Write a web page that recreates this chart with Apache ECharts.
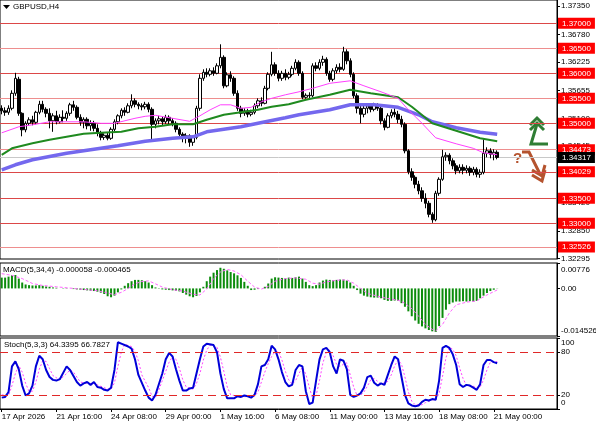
<!DOCTYPE html>
<html>
<head>
<meta charset="utf-8">
<title>GBPUSD H4</title>
<script src="https://cdn.jsdelivr.net/npm/echarts@6/dist/echarts.min.js"></script>
<style>
  html, body { margin: 0; padding: 0; background: #fff; }
  #chart { width: 596px; height: 425px; }
</style>
</head>
<body>
<div id="chart"></div>
<script>
// GBPUSD H4, 17 Apr 2026 -> 21 May 2026
const open = [
  1.3530,1.3525,1.3522,1.3530,1.3560,1.3588,1.3520,1.3487,1.3500,1.3507,
  1.3502,1.3522,1.3538,1.3528,1.3520,1.3505,1.3515,1.3503,1.3512,1.3510,
  1.3520,1.3537,1.3532,1.3512,1.3502,1.3508,1.3495,1.3500,1.3490,1.3480,
  1.3472,1.3476,1.3470,1.3488,1.3503,1.3515,1.3526,1.3522,1.3535,1.3545,
  1.3538,1.3535,1.3533,1.3538,1.3528,1.3498,1.3505,1.3509,1.3503,1.3512,
  1.3505,1.3500,1.3488,1.3478,1.3470,1.3475,1.3462,1.3472,1.3530,1.3590,
  1.3602,1.3598,1.3605,1.3600,1.3615,1.3632,1.3575,1.3597,1.3590,1.3560,
  1.3530,1.3520,1.3525,1.3518,1.3522,1.3535,1.3545,1.3540,1.3570,1.3598,
  1.3617,1.3600,1.3590,1.3600,1.3592,1.3598,1.3610,1.3622,1.3600,1.3552,
  1.3556,1.3555,1.3615,1.3610,1.3622,1.3628,1.3600,1.3588,1.3605,1.3612,
  1.3608,1.3643,1.3625,1.3598,1.3555,1.3530,1.3518,1.3530,1.3535,1.3528,
  1.3536,1.3530,1.3505,1.3492,1.3515,1.3522,1.3518,1.3508,1.3498,1.3445,
  1.3403,1.3392,1.3378,1.3365,1.3350,1.3340,1.3318,1.3307,1.3360,1.3388,
  1.3433,1.3436,1.3425,1.3415,1.3405,1.3412,1.3406,1.3410,1.3402,1.3408,
  1.3398,1.3402,1.3440,1.3445,1.3438,1.3442
]
const high = [
  1.3536,1.3532,1.3536,1.3566,1.3601,1.3593,1.3522,1.3504,1.3512,1.3515,
  1.3525,1.3545,1.3545,1.3532,1.3530,1.3520,1.3525,1.3518,1.3526,1.3524,
  1.3541,1.3545,1.3536,1.3518,1.3512,1.3512,1.3506,1.3505,1.3498,1.3485,
  1.3480,1.3482,1.3492,1.3508,1.3518,1.3530,1.3532,1.3540,1.3558,1.3550,
  1.3542,1.3540,1.3543,1.3542,1.3532,1.3510,1.3515,1.3514,1.3517,1.3516,
  1.3510,1.3504,1.3492,1.3482,1.3480,1.3478,1.3476,1.3535,1.3598,1.3608,
  1.3610,1.3610,1.3612,1.3620,1.3658,1.3636,1.3602,1.3604,1.3594,1.3566,
  1.3535,1.3530,1.3529,1.3527,1.3540,1.3550,1.3552,1.3575,1.3602,1.3643,
  1.3622,1.3606,1.3605,1.3608,1.3603,1.3615,1.3628,1.3626,1.3604,1.3560,
  1.3562,1.3620,1.3622,1.3628,1.3635,1.3632,1.3605,1.3610,1.3618,1.3620,
  1.3653,1.3648,1.3630,1.3602,1.3560,1.3535,1.3535,1.3540,1.3540,1.3541,
  1.3540,1.3535,1.3510,1.3520,1.3528,1.3530,1.3525,1.3515,1.3502,1.3448,
  1.3410,1.3396,1.3385,1.3372,1.3360,1.3345,1.3322,1.3365,1.3392,1.3447,
  1.3442,1.3440,1.3430,1.3420,1.3418,1.3418,1.3416,1.3414,1.3413,1.3412,
  1.3408,1.3468,1.3452,1.3450,1.3448,1.3446
]
const low = [
  1.3518,1.3515,1.3517,1.3526,1.3555,1.3515,1.3474,1.3482,1.3495,1.3496,
  1.3498,1.3518,1.3522,1.3512,1.3490,1.3483,1.3498,1.3500,1.3502,1.3505,
  1.3515,1.3525,1.3508,1.3495,1.3490,1.3488,1.3485,1.3484,1.3474,1.3466,
  1.3467,1.3466,1.3467,1.3484,1.3498,1.3510,1.3515,1.3520,1.3530,1.3532,
  1.3528,1.3526,1.3528,1.3522,1.3463,1.3490,1.3498,1.3496,1.3499,1.3498,
  1.3494,1.3482,1.3470,1.3462,1.3460,1.3453,1.3455,1.3468,1.3525,1.3585,
  1.3592,1.3594,1.3595,1.3598,1.3610,1.3570,1.3572,1.3583,1.3555,1.3525,
  1.3512,1.3515,1.3512,1.3514,1.3518,1.3530,1.3534,1.3538,1.3566,1.3594,
  1.3595,1.3584,1.3585,1.3586,1.3588,1.3594,1.3606,1.3595,1.3548,1.3549,
  1.3550,1.3552,1.3604,1.3606,1.3615,1.3595,1.3583,1.3584,1.3600,1.3602,
  1.3605,1.3618,1.3592,1.3550,1.3520,1.3500,1.3512,1.3520,1.3522,1.3524,
  1.3525,1.3498,1.3486,1.3490,1.3510,1.3512,1.3500,1.3492,1.3440,1.3398,
  1.3385,1.3370,1.3358,1.3343,1.3330,1.3312,1.3301,1.3304,1.3355,1.3385,
  1.3425,1.3418,1.3408,1.3398,1.3400,1.3398,1.3400,1.3395,1.3396,1.3392,
  1.3391,1.3398,1.3432,1.3430,1.3426,1.3428
]
const close = [
  1.3525,1.3522,1.3530,1.3560,1.3590,1.3520,1.3487,1.3500,1.3507,1.3502,
  1.3522,1.3538,1.3528,1.3520,1.3505,1.3515,1.3503,1.3512,1.3510,1.3520,
  1.3537,1.3532,1.3512,1.3502,1.3508,1.3495,1.3500,1.3490,1.3480,1.3472,
  1.3476,1.3470,1.3488,1.3503,1.3515,1.3526,1.3522,1.3535,1.3545,1.3538,
  1.3535,1.3533,1.3538,1.3528,1.3498,1.3505,1.3509,1.3503,1.3512,1.3505,
  1.3500,1.3488,1.3478,1.3470,1.3475,1.3462,1.3472,1.3530,1.3590,1.3602,
  1.3598,1.3605,1.3600,1.3615,1.3632,1.3575,1.3597,1.3590,1.3560,1.3530,
  1.3520,1.3525,1.3518,1.3522,1.3535,1.3545,1.3540,1.3570,1.3598,1.3617,
  1.3600,1.3590,1.3600,1.3592,1.3598,1.3610,1.3622,1.3600,1.3552,1.3556,
  1.3555,1.3615,1.3610,1.3622,1.3628,1.3600,1.3588,1.3605,1.3612,1.3608,
  1.3643,1.3625,1.3598,1.3555,1.3530,1.3518,1.3530,1.3535,1.3528,1.3536,
  1.3530,1.3505,1.3492,1.3515,1.3522,1.3518,1.3508,1.3498,1.3445,1.3403,
  1.3392,1.3378,1.3365,1.3350,1.3340,1.3318,1.3307,1.3360,1.3388,1.3433,
  1.3436,1.3425,1.3415,1.3405,1.3412,1.3406,1.3410,1.3402,1.3408,1.3398,
  1.3402,1.3440,1.3445,1.3438,1.3442,1.34317
]

// moving averages, [bar index, price]
const maFast = [[0,1.3481],[5,1.3493],[9,1.3497],[14,1.3503],[24,1.3503],[29,1.3500],[33,1.3500],
  [39,1.3510],[42,1.3514],[45,1.3516],[50,1.3510],[55,1.3504],[58,1.3515],[61,1.3527],[64,1.3537],
  [67,1.3537],[70,1.3530],[73,1.3532],[76,1.3543],[79,1.3550],[83,1.3557],[87,1.3563],[91,1.3570],
  [96,1.3580],[102,1.3585],[106,1.3575],[111,1.3563],[116,1.3550],[119,1.3527],[123,1.3500],
  [127,1.3471],[133,1.3459],[138,1.3450],[141,1.3441],[145,1.3437]]
const maMid = [[0,1.3437],[3,1.3450],[9,1.3460],[14,1.3467],[19,1.3473],[24,1.3479],[29,1.3481],
  [35,1.3483],[40,1.3490],[45,1.3493],[50,1.3498],[56,1.3498],[60,1.3507],[65,1.3517],[70,1.3522],
  [75,1.3527],[79,1.3533],[84,1.3538],[89,1.3547],[96,1.3557],[102,1.3567],[108,1.3560],[116,1.3552],
  [120,1.3533],[126,1.3500],[133,1.3485],[140,1.3470],[145,1.3464]]
const maSlow = [[0,1.3407],[4,1.3417],[9,1.3427],[19,1.3440],[29,1.3450],[34,1.3455],[42,1.3464],
  [50,1.3470],[56,1.3473],[60,1.3483],[70,1.3493],[75,1.3500],[83,1.3511],[87,1.3517],[96,1.3527],
  [102,1.3537],[109,1.3537],[116,1.3532],[122,1.3517],[126,1.3503],[133,1.3491],[140,1.3482],[145,1.3478]]

// MACD(5,34,4)
const macdHist = [
  0.0033,0.0033,0.0036,0.0040,0.0041,0.0030,0.0018,0.0012,0.0010,0.0009,
  0.0009,0.0010,0.0008,0.0006,0.0005,0.0003,0.0002,0.0000,-0.0001,0.0001,
  0.0000,-0.0002,-0.0003,-0.0004,-0.0005,-0.0006,-0.0007,-0.0008,-0.0010,-0.0013,
  -0.0017,-0.0024,-0.0027,-0.0022,-0.0012,-0.0003,0.0008,0.0016,0.0022,0.0026,
  0.0026,0.0025,0.0022,0.0018,0.0010,0.0003,-0.0001,-0.0003,-0.0004,-0.0005,
  -0.0006,-0.0007,-0.0009,-0.0014,-0.0019,-0.0024,-0.0027,-0.0023,-0.0012,0.0005,
  0.0022,0.0036,0.0048,0.0056,0.0063,0.0060,0.0055,0.0050,0.0046,0.0040,
  0.0032,0.0020,0.0008,-0.0005,-0.0004,-0.0002,0.0000,0.0005,0.0015,0.0030,
  0.0034,0.0033,0.0032,0.0031,0.0033,0.0032,0.0034,0.0036,0.0030,0.0020,
  0.0010,0.0007,0.0010,0.0018,0.0024,0.0027,0.0026,0.0025,0.0026,0.0027,
  0.0027,0.0024,0.0018,0.0008,-0.0005,-0.0016,-0.0022,-0.0025,-0.0027,-0.0028,
  -0.0028,-0.0030,-0.0035,-0.0038,-0.0038,-0.0037,-0.0038,-0.0045,-0.0056,-0.0070,
  -0.0085,-0.0098,-0.0108,-0.0116,-0.0122,-0.0127,-0.0131,-0.0133,-0.0115,-0.0090,
  -0.0065,-0.0048,-0.0043,-0.0040,-0.0040,-0.0039,-0.0040,-0.0039,-0.0040,-0.0038,
  -0.0030,-0.0022,-0.0014,-0.0008,-0.0004,-0.000058
]
const macdSignal = [[0,0.0045],[3,0.0040],[6,0.0030],[9,0.0015],[12,0.0009],[16,0.0005],[20,0.0001],
  [24,-0.0003],[28,-0.0007],[31,-0.0014],[33,-0.0019],[35,-0.0012],[37,0.0000],[39,0.0014],[41,0.0021],
  [43,0.0023],[45,0.0014],[47,0.0004],[50,-0.0004],[53,-0.0008],[56,-0.0018],[58,-0.0020],[60,-0.0002],
  [62,0.0030],[64,0.0050],[66,0.0058],[68,0.0053],[70,0.0042],[72,0.0022],[74,0.0004],[76,-0.0002],
  [78,0.0006],[80,0.0022],[83,0.0030],[86,0.0032],[89,0.0028],[91,0.0016],[93,0.0013],[95,0.0020],
  [98,0.0025],[101,0.0026],[103,0.0016],[105,0.0000],[107,-0.0015],[110,-0.0024],[113,-0.0031],
  [116,-0.0036],[118,-0.0045],[120,-0.0062],[122,-0.0085],[124,-0.0110],[126,-0.0125],[127,-0.0130],
  [129,-0.0110],[131,-0.0075],[133,-0.0050],[136,-0.0042],[139,-0.0038],[142,-0.0020],[145,-0.000465]]

// Stochastic(5,3,3), [bar index, value]
const stochMain = [[0,16],[1,17],[2,24],[3,60],[4,67],[5,56],[6,33],[7,19],[8,22],[9,33],[10,60],[11,75],
  [12,70],[13,55],[14,45],[15,41],[16,40],[17,42],[19,60],[20,55],[22,38],[23,33],[24,36],[25,38],[26,34],
  [27,38],[28,31],[29,30],[30,27],[31,26],[32,30],[33,55],[34,94],[35,92],[37,88],[38,85],[39,70],[40,48],
  [42,26],[43,16],[44,12],[45,20],[47,50],[48,70],[49,79],[50,74],[51,56],[52,40],[53,26],[54,26],[55,29],
  [56,30],[57,50],[58,70],[59,88],[60,92],[62,90],[63,80],[64,50],[65,28],[66,15],[68,15],[69,18],[70,17],
  [71,19],[72,18],[73,16],[74,20],[75,35],[76,60],[77,62],[78,70],[79,89],[80,84],[81,70],[82,52],[83,38],
  [84,32],[85,34],[86,55],[87,62],[88,60],[89,25],[90,7],[91,9],[92,40],[93,70],[94,84],[95,86],[96,80],
  [97,60],[98,50],[99,70],[100,68],[101,56],[102,20],[103,17],[104,19],[105,22],[106,30],[107,45],[108,47],
  [109,37],[110,33],[111,36],[112,34],[113,48],[114,62],[115,74],[116,70],[117,45],[118,20],[119,8],[120,5],
  [121,4],[122,5],[123,10],[124,13],[125,12],[126,14],[127,13],[128,40],[129,86],[130,89],[131,86],[132,77],
  [133,62],[134,35],[135,31],[136,34],[137,33],[138,30],[139,27],[140,35],[141,62],[142,69],[143,69],
  [144,66],[145,64.3395]]
const stochSignal = [[0,20],[2,19],[3,33],[4,50],[5,61],[6,52],[7,36],[8,25],[9,25],[10,38],[11,56],[12,68],
  [13,67],[14,57],[15,47],[17,41],[19,50],[20,55],[21,52],[23,38],[25,36],[27,36],[29,32],[31,28],[32,28],
  [33,37],[34,60],[35,80],[36,91],[38,88],[39,81],[40,68],[41,48],[43,30],[44,18],[45,16],[46,27],[48,53],
  [49,66],[50,74],[51,70],[52,57],[53,41],[54,31],[56,28],[57,36],[58,50],[59,69],[60,83],[61,90],[63,87],
  [64,73],[65,53],[66,31],[67,20],[70,17],[73,18],[74,18],[75,24],[76,38],[77,52],[78,64],[79,74],[80,81],
  [81,81],[82,69],[83,53],[84,41],[85,35],[86,40],[87,50],[88,59],[89,49],[90,31],[91,14],[92,19],[93,40],
  [94,65],[95,80],[96,83],[97,75],[98,63],[99,60],[100,63],[101,65],[102,48],[103,31],[104,19],[105,19],
  [106,24],[107,32],[108,41],[109,43],[110,39],[111,35],[113,39],[114,48],[115,61],[116,69],[117,63],
  [118,45],[119,24],[120,11],[121,6],[123,6],[124,9],[126,13],[127,13],[128,22],[129,46],[130,72],[131,87],
  [132,84],[133,75],[134,58],[135,43],[136,33],[138,32],[139,30],[140,31],[141,41],[142,55],[143,66],
  [145,66.7827]]

// horizontal levels and axis labels
const levels = [1.37000, 1.36500, 1.36000, 1.35500, 1.35000, 1.34473, 1.34029, 1.33500, 1.33000, 1.32526]
const lastPrice = 1.34317
const priceTicks = [1.37350, 1.36780, 1.36225, 1.35655, 1.35100, 1.34545, 1.33975, 1.33420, 1.32850, 1.32295]
const macdTicks = [0.00776, 0, -0.014526]
const macdTickLabels = ['0.00776', '0.00', '-0.014526']
const stochTicks = [100, 80, 20, 0]
const timeLabels = ['17 Apr 2026', '21 Apr 16:00', '24 Apr 08:00', '29 Apr 00:00', '1 May 16:00',
  '6 May 08:00', '11 May 00:00', '13 May 16:00', '18 May 08:00', '21 May 00:00']

const FONT = '"Liberation Sans", Arial, sans-serif'
const FS = 8
const SLOTS = 163 // bar slots across the window (chart shift on the right)
const TICK_EVERY = 16

const cats = []
for (let i = 0; i < SLOTS; i++) cats.push(String(i))

const candles = open.map((o, i) => [o, close[i], low[i], high[i]])

const strongLevel = [1.37000, 1.36000, 1.35000, 1.34029, 1.33500, 1.33000]
const levelLines = levels.map(v => ({
  yAxis: v,
  lineStyle: { color: strongLevel.indexOf(v) >= 0 ? '#dc4848' : '#ee8e8e', width: 1, type: 'solid' },
  label: {
    show: true, position: 'end', distance: 1, formatter: v.toFixed(5),
    backgroundColor: '#ff0000', color: '#fff', padding: [2, 4, 1, 4],
    fontSize: FS, fontFamily: FONT
  }
}))
levelLines.push({
  yAxis: lastPrice,
  lineStyle: { color: '#c8c8c8', width: 1, type: 'solid' },
  label: {
    show: true, position: 'end', distance: 1, formatter: lastPrice.toFixed(5),
    backgroundColor: '#000', color: '#fff', padding: [2, 4, 1, 4],
    fontSize: FS, fontFamily: FONT
  }
})

function nearestIndex(list, v) {
  let best = 0
  for (let i = 1; i < list.length; i++) {
    if (Math.abs(list[i] - v) < Math.abs(list[best] - v)) best = i
  }
  return best
}

const chart = echarts.init(document.getElementById('chart'), null, { renderer: 'canvas' })

const gridBase = { left: 0, right: 39, show: true, borderColor: '#000', borderWidth: 1, backgroundColor: '#fff', outerBoundsMode: 'none' }

chart.setOption({
  animation: false,
  backgroundColor: '#fff',
  textStyle: { fontFamily: FONT },
  title: [
    { text: 'GBPUSD,H4', left: 13, top: 3, padding: 0, textStyle: { fontSize: FS, fontWeight: 'normal', color: '#000', fontFamily: FONT } },
    { text: 'MACD(5,34,4) -0.000058 -0.000465', left: 3, top: 266, padding: 0, textStyle: { fontSize: FS, fontWeight: 'normal', color: '#000', fontFamily: FONT } },
    { text: 'Stoch(5,3,3) 64.3395 66.7827', left: 4, top: 341, padding: 0, textStyle: { fontSize: FS, fontWeight: 'normal', color: '#000', fontFamily: FONT } }
  ],
  grid: [
    Object.assign({ top: 0, height: 259 }, gridBase),
    Object.assign({ top: 263, height: 73 }, gridBase),
    Object.assign({ top: 338, height: 71 }, gridBase)
  ],
  xAxis: [0, 1, 2].map(g => ({
    type: 'category',
    gridIndex: g,
    data: cats,
    boundaryGap: true,
    show: g === 2,
    axisLine: { show: true, lineStyle: { color: '#000' } },
    axisTick: {
      show: true, length: 3, alignWithLabel: true,
      interval: i => i % TICK_EVERY === 0 && i / TICK_EVERY < timeLabels.length,
      lineStyle: { color: '#000' }
    },
    axisLabel: {
      interval: i => i % TICK_EVERY === 0 && i / TICK_EVERY < timeLabels.length,
      formatter: (v, i) => timeLabels[i / TICK_EVERY] || '',
      align: 'left', margin: 4, color: '#000', fontSize: FS, fontFamily: FONT
    },
    splitLine: { show: false }
  })),
  yAxis: [
    {
      type: 'value', gridIndex: 0, position: 'right',
      min: 1.32286, max: 1.37466,
      splitLine: { show: false },
      axisLine: { show: true, lineStyle: { color: '#000' } },
      axisTick: { show: true, customValues: priceTicks, length: 3, lineStyle: { color: '#000' } },
      axisLabel: { customValues: priceTicks, formatter: v => v.toFixed(5), margin: 4, color: '#000', fontSize: FS, fontFamily: FONT }
    },
    {
      type: 'value', gridIndex: 1, position: 'right',
      min: -0.014526, max: 0.00776,
      splitLine: { show: false },
      axisLine: { show: true, lineStyle: { color: '#000' } },
      axisTick: { show: true, customValues: macdTicks, length: 3, lineStyle: { color: '#000' } },
      axisLabel: {
        customValues: macdTicks, margin: 4, color: '#000', fontSize: FS, fontFamily: FONT,
        formatter: v => {
          const i = nearestIndex(macdTicks, v)
          const style = i === 0 ? 'top' : (i === 2 ? 'bot' : 'mid')
          return '{' + style + '|' + macdTickLabels[i] + '}'
        },
        rich: {
          top: { padding: [13, 0, 0, 0], fontSize: FS, fontFamily: FONT, color: '#000' },
          mid: { fontSize: FS, fontFamily: FONT, color: '#000' },
          bot: { padding: [0, 0, 11, 0], fontSize: FS, fontFamily: FONT, color: '#000' }
        }
      }
    },
    {
      type: 'value', gridIndex: 2, position: 'right',
      min: 0, max: 100,
      splitLine: { show: false },
      axisLine: { show: true, lineStyle: { color: '#000' } },
      axisTick: { show: true, customValues: stochTicks, length: 3, lineStyle: { color: '#000' } },
      axisLabel: {
        customValues: stochTicks, margin: 4, color: '#000', fontSize: FS, fontFamily: FONT,
        formatter: v => {
          const style = v === 100 ? 'top' : (v === 0 ? 'bot' : 'mid')
          return '{' + style + '|' + v + '}'
        },
        rich: {
          top: { padding: [10, 0, 0, 0], fontSize: FS, fontFamily: FONT, color: '#000' },
          mid: { fontSize: FS, fontFamily: FONT, color: '#000' },
          bot: { padding: [0, 0, 12, 0], fontSize: FS, fontFamily: FONT, color: '#000' }
        }
      }
    }
  ],
  series: [
    {
      name: 'GBPUSD', type: 'candlestick', xAxisIndex: 0, yAxisIndex: 0,
      data: candles, barWidth: 3,
      itemStyle: { color: '#fff', color0: '#000', borderColor: '#000', borderColor0: '#000', borderWidth: 1 },
      markLine: { silent: true, symbol: 'none', precision: 5, animation: false, z: 1, data: levelLines }
    },
    {
      name: 'MA slow', type: 'line', xAxisIndex: 0, yAxisIndex: 0, data: maSlow,
      symbol: 'none', smooth: false, lineStyle: { color: '#7468ee', width: 3.5 }, z: 3
    },
    {
      name: 'MA mid', type: 'line', xAxisIndex: 0, yAxisIndex: 0, data: maMid,
      symbol: 'none', lineStyle: { color: '#1f8a1f', width: 2 }, z: 3
    },
    {
      name: 'MA fast', type: 'line', xAxisIndex: 0, yAxisIndex: 0, data: maFast,
      symbol: 'none', lineStyle: { color: '#ff40ff', width: 1 }, z: 3
    },
    {
      name: 'MACD', type: 'bar', xAxisIndex: 1, yAxisIndex: 1, data: macdHist,
      barWidth: 2, itemStyle: { color: '#0c8c0c' }
    },
    {
      name: 'Signal', type: 'line', xAxisIndex: 1, yAxisIndex: 1, data: macdSignal,
      symbol: 'none', lineStyle: { color: '#ff66ff', width: 1, type: [3, 2] }, z: 3
    },
    {
      name: 'Stoch', type: 'line', xAxisIndex: 2, yAxisIndex: 2, data: stochMain,
      symbol: 'none', lineStyle: { color: '#0000d8', width: 2 }, z: 3,
      markLine: {
        silent: true, symbol: 'none', label: { show: false },
        lineStyle: { color: '#e02828', width: 1, type: [8, 5] },
        data: [{ yAxis: 80 }, { yAxis: 20 }]
      }
    },
    {
      name: 'Stoch signal', type: 'line', xAxisIndex: 2, yAxisIndex: 2, data: stochSignal,
      symbol: 'none', lineStyle: { color: '#ff44ff', width: 1, type: [2, 2] }, z: 2
    }
  ],
  graphic: [
    // little menu triangle before the symbol name
    { type: 'polygon', shape: { points: [[3, 5], [10, 5], [6.5, 9]] }, style: { fill: '#000' } },
    // green "up" arrow
    { type: 'polyline', shape: { points: [[530, 125], [537, 118], [544, 125]] }, style: { stroke: '#2f7d34', lineWidth: 3, fill: null } },
    { type: 'polyline', shape: { points: [[530, 130], [537, 123], [544, 130]] }, style: { stroke: '#2f7d34', lineWidth: 3, fill: null } },
    { type: 'polyline', shape: { points: [[537, 124], [531, 144], [548, 144]] }, style: { stroke: '#2f7d34', lineWidth: 3, fill: null } },
    // brown "down" arrow with question mark
    { type: 'text', left: 513, top: 151, style: { text: '?', fill: '#b5532e', font: 'bold 15px "Liberation Sans", sans-serif' } },
    { type: 'polyline', shape: { points: [[522, 152], [529, 152], [540, 174]] }, style: { stroke: '#b5532e', lineWidth: 3, fill: null } },
    { type: 'polyline', shape: { points: [[532, 170], [542, 176], [545, 165]] }, style: { stroke: '#b5532e', lineWidth: 3, fill: null } },
    { type: 'polyline', shape: { points: [[532, 175], [542, 181], [545, 170]] }, style: { stroke: '#b5532e', lineWidth: 3, fill: null } }
  ]
})
</script>
</body>
</html>
